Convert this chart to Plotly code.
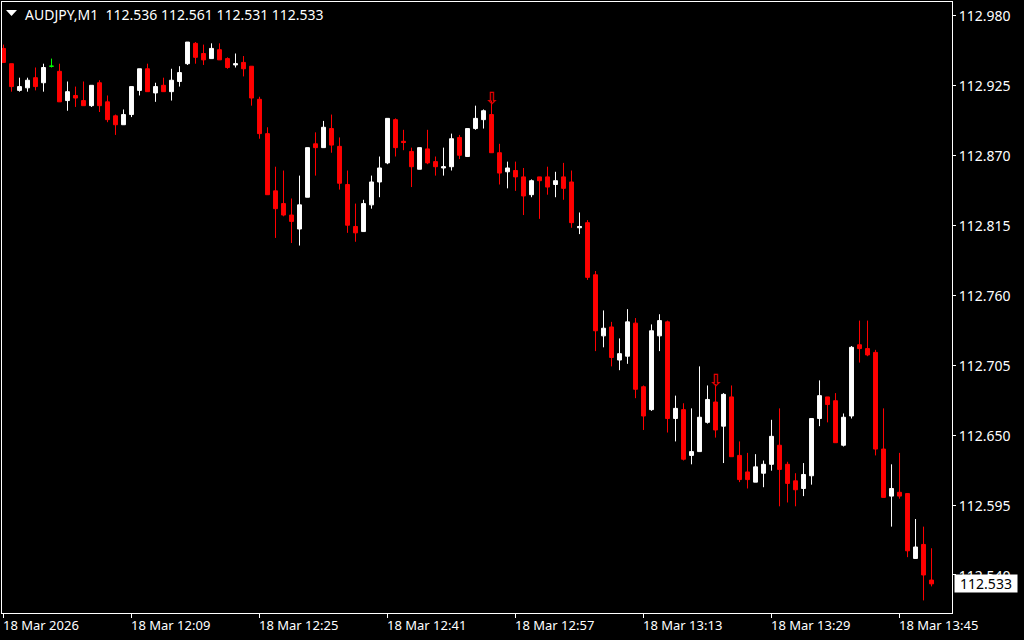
import plotly.graph_objects as go

opens = [112.954,112.942,112.921,112.923,112.931,112.927,112.940,112.936,112.913,112.917,112.913,112.909,112.927,112.912,112.901,112.894,
112.902,112.921,112.938,112.919,112.925,112.920,112.928,112.942,112.958,112.950,112.946,112.953,112.946,112.941,112.943,112.940,
112.914,112.887,112.842,112.832,112.823,112.812,112.837,112.879,112.876,112.891,112.877,112.847,112.814,112.810,112.831,112.849,
112.864,112.898,112.881,112.873,112.859,112.875,112.865,112.860,112.861,112.884,112.869,112.891,112.898,112.902,112.872,112.857,
112.858,112.853,112.839,112.853,112.853,112.847,112.853,112.849,112.813,112.817,112.776,112.728,112.735,112.709,112.712,112.738,
112.688,112.670,112.728,112.739,112.663,112.670,112.634,112.637,112.660,112.676,112.657,112.680,112.634,112.621,112.613,112.620,
112.627,112.642,112.627,112.614,112.608,112.618,112.663,112.680,112.677,112.642,112.665,112.721,112.718,112.715,112.639,112.602,
112.605,112.604,112.553,112.564,112.536]
highs = [112.957,112.942,112.931,112.931,112.939,112.942,112.946,112.942,112.928,112.924,112.928,112.925,112.929,112.917,112.902,112.906,
112.924,112.938,112.942,112.927,112.931,112.938,112.940,112.959,112.959,112.957,112.958,112.958,112.947,112.950,112.948,112.940,
112.916,112.892,112.861,112.858,112.836,112.854,112.876,112.888,112.897,112.902,112.884,112.858,112.832,112.835,112.854,112.869,
112.899,112.899,112.890,112.876,112.876,112.890,112.869,112.876,112.887,112.886,112.891,112.909,112.906,112.913,112.879,112.865,
112.865,112.860,112.851,112.853,112.861,112.857,112.864,112.858,112.825,112.819,112.779,112.748,112.739,112.726,112.749,112.742,
112.689,112.737,112.745,112.740,112.681,112.675,112.671,112.704,112.689,112.690,112.683,112.689,112.645,112.636,112.635,112.630,
112.662,112.671,112.629,112.620,112.628,112.663,112.693,112.680,112.683,112.667,112.720,112.740,112.740,112.717,112.671,112.627,
112.636,112.604,112.584,112.578,112.561]
lows = [112.943,112.920,112.920,112.920,112.921,112.920,112.939,112.912,112.905,112.908,112.909,112.908,112.904,112.896,112.886,112.894,
112.900,112.917,112.920,112.912,112.920,112.913,112.924,112.941,112.942,112.941,112.946,112.945,112.938,112.939,112.932,112.909,
112.883,112.839,112.805,112.822,112.801,112.799,112.837,112.854,112.876,112.872,112.843,112.809,112.802,112.810,112.828,112.837,
112.863,112.869,112.874,112.845,112.859,112.863,112.854,112.854,112.858,112.867,112.869,112.890,112.891,112.872,112.847,112.844,
112.842,112.823,112.837,112.820,112.839,112.837,112.835,112.813,112.808,112.772,112.716,112.719,112.704,112.701,112.706,112.679,
112.654,112.669,112.716,112.652,112.645,112.630,112.627,112.637,112.659,112.648,112.628,112.633,112.613,112.608,112.613,112.609,
112.622,112.594,112.597,112.594,112.602,112.611,112.657,112.660,112.644,112.641,112.663,112.707,112.712,112.634,112.601,112.578,
112.600,112.554,112.555,112.520,112.531]
closes = [112.943,112.924,112.924,112.929,112.924,112.939,112.940,112.912,112.920,112.915,112.909,112.925,112.909,112.898,112.894,112.902,
112.924,112.938,112.920,112.924,112.920,112.929,112.935,112.959,112.947,112.945,112.954,112.945,112.939,112.942,112.938,112.915,
112.887,112.839,112.828,112.823,112.818,112.831,112.876,112.876,112.892,112.878,112.848,112.815,112.809,112.832,112.849,112.860,
112.899,112.876,112.880,112.861,112.876,112.864,112.861,112.861,112.883,112.870,112.891,112.899,112.905,112.872,112.856,112.860,
112.853,112.838,112.850,112.850,112.845,112.850,112.844,112.817,112.814,112.774,112.732,112.734,112.711,112.714,112.739,112.686,
112.665,112.732,112.740,112.663,112.671,112.631,112.637,112.664,112.678,112.654,112.682,112.633,112.615,112.615,112.625,112.627,
112.649,112.623,112.612,112.607,112.619,112.663,112.681,112.674,112.644,112.664,112.719,112.718,112.713,112.639,112.601,112.608,
112.602,112.559,112.562,112.540,112.533]

price_ticks = [112.980,112.925,112.870,112.815,112.760,112.705,112.650,112.595,112.540]
time_bars = [0,16,32,48,64,80,96,112]
time_labels = ["18 Mar 2026","18 Mar 12:09","18 Mar 12:25","18 Mar 12:41","18 Mar 12:57","18 Mar 13:13","18 Mar 13:29","18 Mar 13:45"]
arrow_bars = [61,89]
arrow_prices = [112.914,112.692]
header = "AUDJPY,M1  112.536 112.561 112.531 112.533"
last_price = 112.533

FONT = "Noto Sans"
bars = list(range(len(opens)))

def candles(idx,color):
  return go.Candlestick(
    x=idx,
    open=[opens[i] for i in idx],
    high=[highs[i] for i in idx],
    low=[lows[i] for i in idx],
    close=[closes[i] for i in idx],
    increasing=dict(line=dict(color=color,width=1),fillcolor=color),
    decreasing=dict(line=dict(color=color,width=1),fillcolor=color),
    whiskerwidth=0,
    showlegend=False,
    hoverinfo="skip")

fig = go.Figure()
fig.add_trace(candles([i for i in bars if closes[i] > opens[i]],"#ffffff"))
fig.add_trace(candles([i for i in bars if closes[i] < opens[i]],"#ff0000"))
fig.add_trace(candles([i for i in bars if closes[i] == opens[i]],"#00ff00"))
fig.add_trace(go.Scatter(x=arrow_bars,y=arrow_prices,mode="text",text=["⇩"]*len(arrow_bars),textposition="middle center",
  showlegend=False,hoverinfo="skip",textfont=dict(family="DejaVu Sans",size=17,weight=700,color="#e00000")))

for bar,label in zip(time_bars,time_labels):
  fig.add_annotation(x=bar,y=0,xref="x",yref="paper",text=label,showarrow=False,xanchor="left",yanchor="top",
    yshift=-1,xshift=-3,font=dict(family=FONT,size=13,color="#ffffff"))

fig.add_shape(type="path",xref="paper",yref="paper",xsizemode="pixel",ysizemode="pixel",xanchor=0,yanchor=1,
  path="M 4,-8 L 15,-8 L 9.5,-14 Z",fillcolor="#ffffff",line=dict(width=0))
fig.add_annotation(x=0.022,y=1,xref="paper",yref="paper",text=header,showarrow=False,xanchor="left",yanchor="top",
  yshift=-1,font=dict(family=FONT,size=14,color="#ffffff"))
fig.add_annotation(x=1,y=last_price,xref="paper",yref="y",text=f"{last_price:.3f}",showarrow=False,xanchor="left",
  xshift=2,width=62,height=17,bgcolor="#ffffff",borderpad=0,font=dict(family=FONT,size=14,color="#000000"))

fig.update_layout(
  width=1024,height=640,
  margin=dict(l=2,r=72,t=2,b=27,autoexpand=False),
  paper_bgcolor="#000000",plot_bgcolor="#000000",
  hovermode=False,dragmode=False,
  xaxis=dict(range=[-0.1875,118.56],rangeslider=dict(visible=False),showgrid=False,zeroline=False,
    showline=True,linecolor="#ffffff",linewidth=1,mirror=True,
    tickmode="array",tickvals=time_bars,ticks="outside",ticklen=4,tickcolor="#ffffff",showticklabels=False),
  yaxis=dict(range=[112.5101,112.9905],side="right",showgrid=False,zeroline=False,
    showline=True,linecolor="#ffffff",linewidth=1,mirror=True,
    tickmode="array",tickvals=price_ticks,ticktext=[f"{p:.3f}" for p in price_ticks],
    ticklabelshift=1,
    ticks="outside",ticklen=3,tickcolor="#ffffff",tickfont=dict(family=FONT,size=14,color="#ffffff")))

fig.write_html("out.html",config=dict(displayModeBar=False),
  post_script="document.body.style.margin='0';document.body.style.overflow='hidden';document.body.style.background='#000';")
